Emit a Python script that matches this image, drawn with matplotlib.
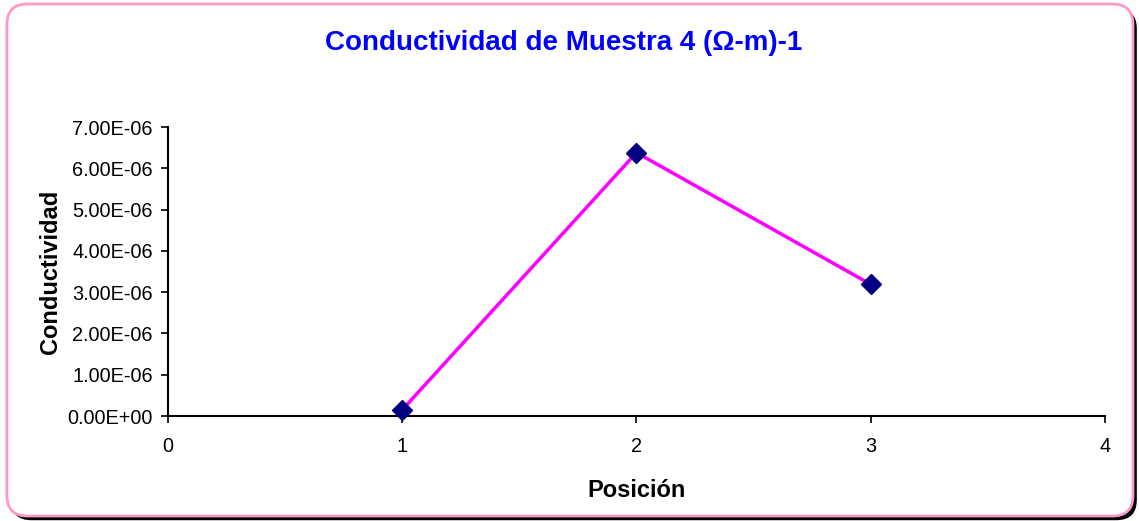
import matplotlib.pyplot as plt
from matplotlib.patches import FancyBboxPatch
from matplotlib.ticker import FuncFormatter

# datos
posicion = [1, 2, 3]
conductividad = [1.5e-07, 6.38e-06, 3.19e-06]

xticks = [0, 1, 2, 3, 4]
yticks = [0, 1e-06, 2e-06, 3e-06, 4e-06, 5e-06, 6e-06, 7e-06]

plt.rcParams['font.family'] = ['Liberation Sans', 'DejaVu Sans']

fig = plt.figure(figsize=(11.39, 5.21), dpi=100)

# marco con sombra
asp = 1139 / 521
sombra = FancyBboxPatch((0.0095, 0.0015), 0.9886, 0.9827, boxstyle="round,pad=0,rounding_size=0.018",
                        transform=fig.transFigure, facecolor='black', edgecolor='none',
                        mutation_aspect=asp, zorder=-2)
marco = FancyBboxPatch((0.0061, 0.0096), 0.9886, 0.9827, boxstyle="round,pad=0,rounding_size=0.018",
                       transform=fig.transFigure, facecolor='white', edgecolor='#FF99CC',
                       linewidth=2, mutation_aspect=asp, zorder=-1)
fig.patches.extend([sombra, marco])

ax = fig.add_axes([0.1475, 0.2015, 0.8226, 0.5547])
ax.set_facecolor('none')
ax.plot(posicion, conductividad, color='#FF00FF', linewidth=2.5, marker='D',
        markersize=10, markerfacecolor='#000080', markeredgecolor='#000080', zorder=3,
        clip_on=False)

ax.set_xlim(0, 4)
ax.set_ylim(0, 7e-06)
ax.set_xticks(xticks)
ax.set_yticks(yticks)
ax.yaxis.set_major_formatter(FuncFormatter(lambda v, p: ('%.2E' % v)))
ax.tick_params(axis='both', labelsize=14.3, length=5, width=1.2, direction='out')
ax.tick_params(axis='y', pad=6)
ax.tick_params(axis='x', pad=10)

for s in ['top', 'right']:
    ax.spines[s].set_visible(False)
for s in ['left', 'bottom']:
    ax.spines[s].set_linewidth(1.5)

ax.set_xlabel('Posición', fontsize=17, fontweight='bold', labelpad=17)
ax.set_ylabel('Conductividad', fontsize=17, fontweight='bold', labelpad=4)

fig.text(0.495, 0.918, 'Conductividad de Muestra 4 (Ω-m)-1', color='#0000FF',
         fontsize=20, fontweight='bold', ha='center', va='center')

fig.savefig('out.png', dpi=100)
